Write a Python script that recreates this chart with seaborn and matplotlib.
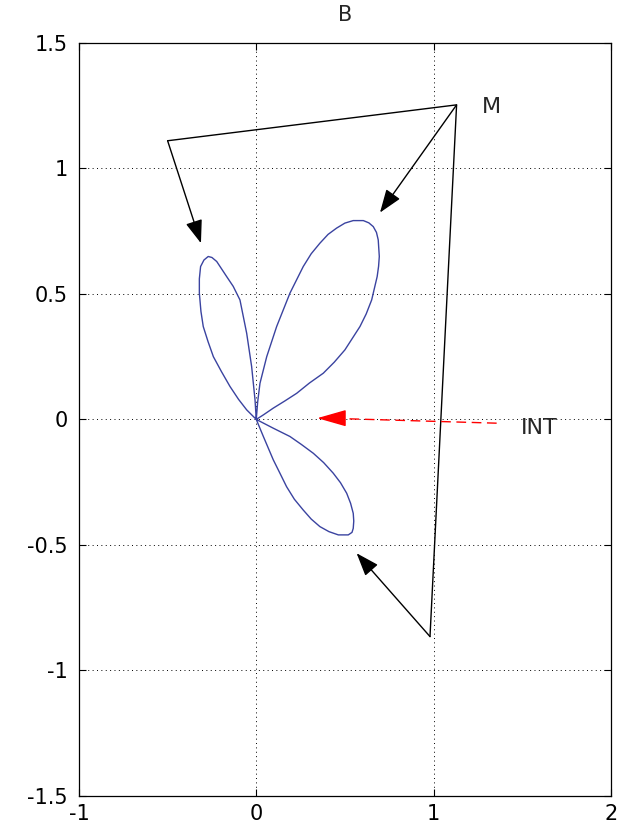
import numpy as np
import pandas as pd
import matplotlib
matplotlib.use("Agg")
import matplotlib.pyplot as plt
import seaborn as sns

# Three-lobed pattern, traced lobe by lobe starting and ending at the origin
left_lobe_x = [0, -0.007, -0.026, -0.054, -0.092, -0.13, -0.167, -0.223, -0.250, -0.271,
               -0.295, -0.314, -0.321, -0.321, -0.312, -0.299, -0.272, -0.242, -0.196,
               -0.148, -0.10, -0.054, 0]
left_lobe_y = [0, 0.078, 0.21, 0.343, 0.476, 0.53, 0.569, 0.629, 0.645, 0.649,
               0.635, 0.609, 0.56, 0.503, 0.43, 0.370, 0.31, 0.25, 0.19,
               0.131, 0.08, 0.038, 0]

lower_lobe_x = [0, 0.04, 0.096, 0.134, 0.171, 0.215, 0.265, 0.31, 0.359, 0.41, 0.463,
                0.519, 0.540, 0.547, 0.550, 0.547, 0.532, 0.510, 0.475, 0.434, 0.38,
                0.322, 0.255, 0.190, 0.096, 0]
lower_lobe_y = [0, -0.068, -0.161, -0.215, -0.268, -0.318, -0.361, -0.397, -0.427, -0.447,
                -0.460, -0.460, -0.450, -0.434, -0.405, -0.374, -0.334, -0.294, -0.252,
                -0.214, -0.172, -0.135, -0.10, -0.068, -0.035, 0]

upper_lobe_x = [0, 0.008, 0.021, 0.059, 0.115, 0.19, 0.265, 0.31, 0.359, 0.405, 0.453,
                0.5, 0.547, 0.604, 0.635, 0.660, 0.678, 0.688, 0.694, 0.690, 0.682,
                0.651, 0.62, 0.585, 0.5, 0.44, 0.378, 0.3, 0.228, 0.16, 0.096, 0.04, 0]
upper_lobe_y = [0, 0.07, 0.144, 0.25, 0.37, 0.503, 0.609, 0.66, 0.702, 0.737, 0.762,
                0.782, 0.792, 0.792, 0.783, 0.768, 0.745, 0.715, 0.649, 0.61, 0.569,
                0.476, 0.42, 0.370, 0.277, 0.228, 0.184, 0.145, 0.104, 0.073, 0.045, 0.018, 0]

# Annotation geometry: label anchor, connector corners and arrow tips
m_anchor = (1.13, 1.253)
m_left_corner = (-0.5, 1.11)
m_low_corner = (0.98, -0.865)
m_tip_left = (-0.312, 0.702)
m_tip_upper = (0.698, 0.824)
m_tip_lower = (0.566, -0.533)
int_tail = (1.356, -0.015)
int_tip = (0.344, 0.005)

x_ticks = [-1, 0, 1, 2]
y_ticks = [-1.5, -1, -0.5, 0, 0.5, 1, 1.5]
x_tick_labels = ["-1", "0", "1", "2"]
y_tick_labels = ["-1.5", "-1", "-0.5", "0", "0.5", "1", "1.5"]

xs = left_lobe_x + lower_lobe_x + upper_lobe_x
ys = left_lobe_y + lower_lobe_y + upper_lobe_y
curve = pd.DataFrame({"x": xs, "y": ys, "order": np.arange(len(xs))})

sns.set_style("ticks")
plt.rcParams["font.family"] = ["DejaVu Sans"]

fig = plt.figure(figsize=(6.17, 8.24), dpi=100)
ax = fig.add_axes([0.128, 0.034, 0.862, 0.914])

sns.lineplot(data=curve, x="x", y="y", sort=False, estimator=None,
             color="#3a43a0", lw=1.0, ax=ax)

# Connector lines for the "M" label
ax.plot([m_left_corner[0], m_anchor[0], m_low_corner[0]],
        [m_left_corner[1], m_anchor[1], m_low_corner[1]],
        color="black", lw=1.0, solid_joinstyle="miter")

head = "-|>,head_length=0.55,head_width=0.2"
for start, tip in [(m_left_corner, m_tip_left), (m_anchor, m_tip_upper),
                   (m_low_corner, m_tip_lower)]:
    ax.annotate("", xy=tip, xytext=start,
                arrowprops=dict(arrowstyle=head, color="black", lw=1.0,
                                mutation_scale=26, shrinkA=0, shrinkB=0))

# Red dashed arrow for "INT"
ax.plot([int_tail[0], int_tip[0] + 0.05], [int_tail[1], int_tip[1]],
        color="red", lw=1.0, ls=(0, (7, 4)))
ax.annotate("", xy=int_tip, xytext=(int_tip[0] + 0.12, int_tip[1]),
            arrowprops=dict(arrowstyle="-|>,head_length=0.7,head_width=0.2",
                            color="red", lw=1.0, mutation_scale=26,
                            shrinkA=0, shrinkB=0))

ax.text(1.27, 1.245, "M", fontsize=16, ha="left", va="center")
ax.text(1.49, -0.035, "INT", fontsize=16, ha="left", va="center")

ax.set_xlim(-1, 2)
ax.set_ylim(-1.5, 1.5)
ax.set_xticks(x_ticks)
ax.set_xticklabels(x_tick_labels)
ax.set_yticks(y_ticks)
ax.set_yticklabels(y_tick_labels)
ax.set_xlabel("")
ax.set_ylabel("")
ax.set_title("B", fontsize=15, pad=16)

ax.grid(True, color="black", lw=0.7, ls=(0, (1, 3.5)))
ax.tick_params(direction="in", top=True, right=True, length=5, width=0.8,
               labelsize=15, color="black", labelcolor="black")
ax.tick_params(axis="x", pad=6)
ax.tick_params(axis="y", pad=8)
for s in ax.spines.values():
    s.set_visible(True)
    s.set_color("black")
    s.set_linewidth(0.9)

fig.savefig("out.png", dpi=100, facecolor="white")
